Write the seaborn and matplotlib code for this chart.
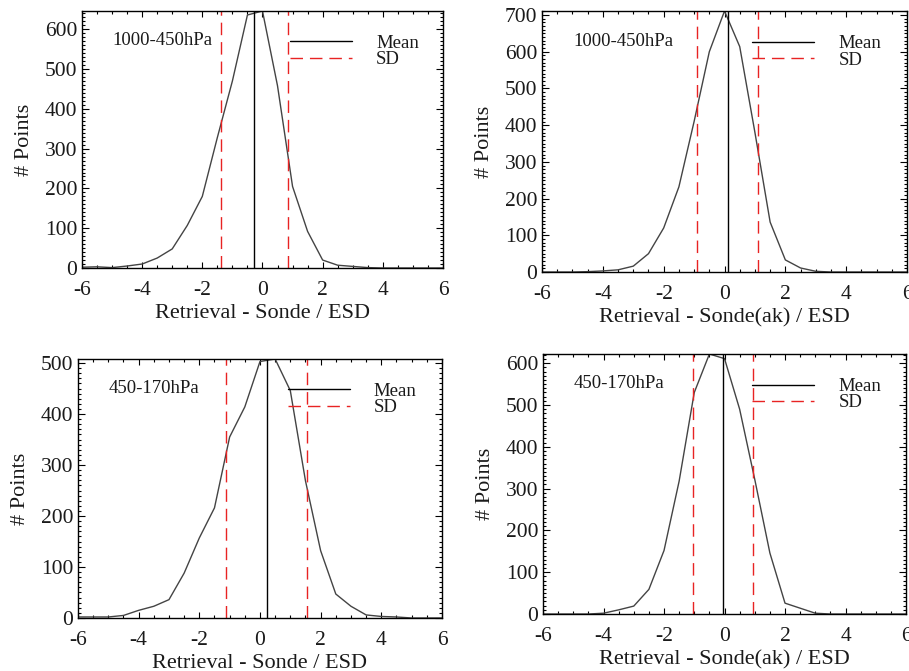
import matplotlib
matplotlib.use("Agg")
import matplotlib.pyplot as plt
from matplotlib.lines import Line2D
from matplotlib.ticker import MultipleLocator
import seaborn as sns

# bin centres (Retrieval - Sonde) / ESD
bins = [-6.0, -5.5, -5.0, -4.5, -4.0, -3.5, -3.0, -2.5, -2.0, -1.5, -1.0, -0.5,
        0.0, 0.5, 1.0, 1.5, 2.0, 2.5, 3.0, 3.5, 4.0, 4.5, 5.0, 5.5, 6.0]

# histogram counts, one list per panel
counts_low = [2, 3, 1, 5, 10, 25, 48, 107, 180, 328, 470, 636,
              646, 458, 205, 92, 20, 7, 4, 1, 0, 0, 0, 0, 0]
counts_low_ak = [0, 0, 0, 1, 3, 6, 16, 50, 120, 232, 410, 600,
                 711, 614, 380, 136, 33, 11, 2, 0, 0, 0, 0, 0, 0]
counts_up = [2, 2, 2, 5, 15, 23, 36, 88, 157, 216, 355, 414,
             503, 508, 446, 269, 132, 47, 23, 6, 3, 2, 0, 0, 0]
counts_up_ak = [0, 0, 0, 0, 2, 10, 19, 59, 152, 318, 530, 622,
                611, 490, 322, 146, 26, 14, 2, 0, 0, 0, 0, 0, 0]

means = [-0.27, 0.10, 0.22, -0.05]
sds = [1.11, 0.99, 1.34, 1.00]

layers = ["1000-450hPa", "1000-450hPa", "450-170hPa", "450-170hPa"]
xlabels = ["Retrieval - Sonde / ESD", "Retrieval - Sonde(ak) / ESD",
           "Retrieval - Sonde / ESD", "Retrieval - Sonde(ak) / ESD"]
all_counts = [counts_low, counts_low_ak, counts_up, counts_up_ak]

# axes boxes in figure fraction (left, bottom, width, height)
boxes = [(0.0902, 0.6006, 0.3971, 0.383),
         (0.5963, 0.5946, 0.4015, 0.389),
         (0.0858, 0.0790, 0.4004, 0.386),
         (0.5974, 0.0849, 0.3993, 0.3875)]

sns.set_style("ticks")
plt.rcParams['font.family'] = ['Liberation Serif', 'DejaVu Serif']
plt.rcParams['axes.unicode_minus'] = False
txt_col = '#1a1a1a'
red = '#e82323'

fig = plt.figure(figsize=(9.09, 6.71), dpi=100)

for i in range(4):
    ax = fig.add_axes(boxes[i])
    counts = all_counts[i]
    sns.lineplot(x=bins, y=counts, ax=ax, color='#444444', lw=1.0, estimator=None)
    m, s = means[i], sds[i]
    ax.axvline(m, color='black', lw=1.0)
    ax.axvline(m - s, color=red, lw=1.0, ls=(0, (9, 5)))
    ax.axvline(m + s, color=red, lw=1.0, ls=(0, (9, 5)))

    ax.set_xlim(-6, 6)
    ax.set_ylim(0, max(counts))
    ax.xaxis.set_major_locator(MultipleLocator(2))
    ax.xaxis.set_minor_locator(MultipleLocator(0.5))
    ax.yaxis.set_major_locator(MultipleLocator(100))
    ax.yaxis.set_minor_locator(MultipleLocator(10))
    ax.tick_params(which='both', direction='in', top=True, right=True,
                   colors='black', labelcolor=txt_col, labelsize=15.5, width=0.8)
    ax.tick_params(axis='x', which='major', length=4, pad=9.5)
    ax.tick_params(axis='x', which='minor', length=2.5)
    ax.tick_params(axis='y', which='major', length=5, pad=3.5)
    ax.tick_params(axis='y', which='minor', length=2.5)
    for sp in ax.spines.values():
        sp.set_linewidth(1.0)
        sp.set_color('black')

    ax.set_xlabel(xlabels[i], fontsize=16, color=txt_col, labelpad=3)
    ax.set_ylabel('# Points', fontsize=16, color=txt_col, labelpad=8)

    ax.text(0.085, 0.885, layers[i], transform=ax.transAxes, va='center',
            ha='left', fontsize=13.5, color=txt_col)

    handles = [Line2D([], [], color='black', lw=1.0),
               Line2D([], [], color=red, lw=1.0, ls=(0, (9, 5)))]
    ax.legend(handles, ['Mean', 'SD'], loc='upper left', bbox_to_anchor=(0.576, 0.908),
              frameon=False, handlelength=3.3, handletextpad=1.3, labelspacing=-0.04,
              borderpad=0, borderaxespad=0, fontsize=13.5, labelcolor=txt_col)

fig.savefig('out.png', dpi=100)
